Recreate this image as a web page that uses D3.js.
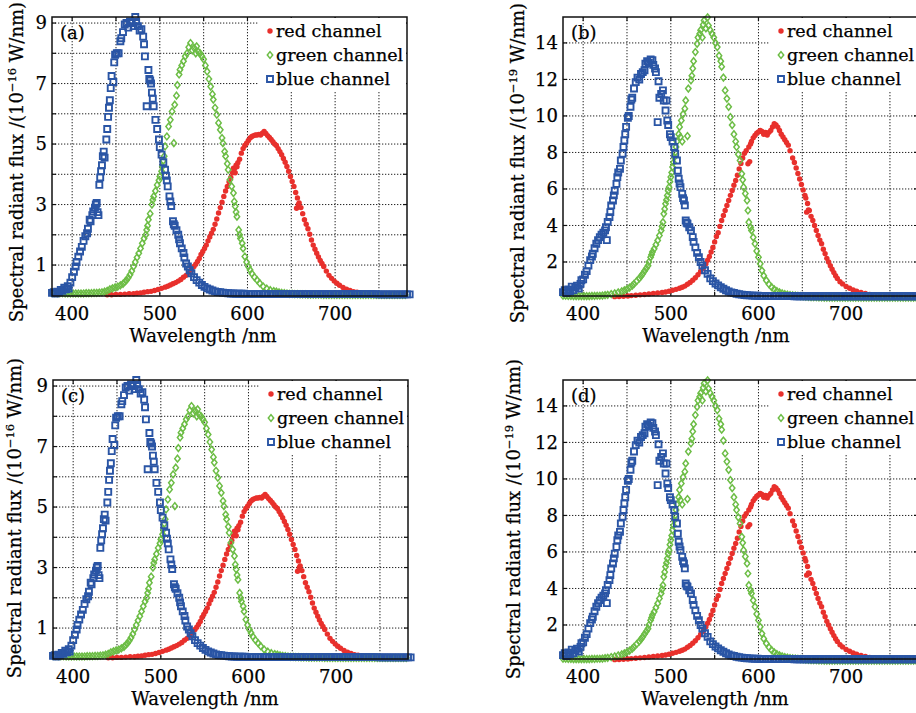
<!DOCTYPE html>
<html>
<head>
<meta charset="utf-8">
<script src="https://cdn.jsdelivr.net/npm/d3@7/dist/d3.min.js"></script>
<style>
body{margin:0;background:#fff}
svg text{font-family:"DejaVu Serif",serif;fill:#000;stroke:#000;stroke-width:0.25px}
</style>
</head>
<body>
<div id="canvas"></div>
<script>
// tick labels / grid positions
const wlTicks = [400, 500, 600, 700]
const wlGrid = [400, 450, 500, 550, 600, 650, 700, 750]
const fluxTicksA = [1, 3, 5, 7, 9]
const fluxGridA = [1, 2, 3, 4, 5, 6, 7, 8, 9]
const fluxTicksB = [2, 4, 6, 8, 10, 12, 14]
const channels = ["red channel", "green channel", "blue channel"]

// panels (a)/(c): [wavelength nm, flux 1e-16 W/nm]
const redA = [[440,0.02],[445,0.02],[450,0.03],[455,0.03],[460,0.04],[465,0.05],[470,0.05],[474,0.07],[478,0.08],[482,0.1],[486,0.12],[490,0.13],[494,0.16],[498,0.19],[502,0.23],[506,0.27],[509,0.3],[512,0.34],[515,0.38],[518,0.42],[521,0.47],[524,0.52],[527,0.6],[530,0.66],[533,0.74],[536,0.84],[539,0.95],[541,1.03],[543,1.12],[545,1.22],[547,1.35],[549,1.45],[551,1.55],[553,1.66],[555,1.8],[557,1.93],[559,2.05],[561,2.18],[563,2.35],[565,2.52],[567,2.72],[569,2.9],[571,3.08],[573,3.27],[575,3.45],[577,3.6],[579,3.75],[581,3.9],[583,4.05],[584,4.2],[585,4.18],[586,4.05],[587,4.3],[588,4.25],[589,4.38],[591,4.5],[593,4.7],[595,4.85],[597,4.95],[599,5.03],[601,5.12],[603,5.2],[605,5.25],[607,5.28],[609,5.3],[611,5.3],[613,5.32],[615,5.3],[617,5.36],[619,5.42],[621,5.35],[623,5.28],[625,5.22],[627,5.15],[629,5.08],[631,5.0],[633,4.95],[635,4.85],[637,4.75],[639,4.65],[641,4.52],[643,4.4],[645,4.26],[647,4.1],[649,3.93],[651,3.76],[653,3.6],[655,3.4],[656,2.88],[657,3.22],[658,3.0],[659,3.05],[661,2.9],[663,2.7],[665,2.5],[667,2.35],[669,2.2],[671,2.02],[673,1.83],[675,1.66],[677,1.52],[679,1.39],[681,1.27],[683,1.15],[685,1.05],[687,0.95],[690,0.8],[693,0.66],[696,0.56],[699,0.47],[702,0.4],[705,0.33],[709,0.26],[713,0.2],[717,0.16],[721,0.12],[725,0.1],[729,0.08],[734,0.06],[739,0.04],[744,0.03],[750,0.02],[756,0.02],[762,0.02],[768,0.02],[774,0.02],[780,0.02]]
const greenA = [[377,0.08],[380,0.08],[383,0.07],[386,0.07],[389,0.07],[392,0.06],[395,0.06],[398,0.06],[401,0.06],[404,0.06],[407,0.06],[410,0.06],[413,0.06],[416,0.07],[419,0.07],[422,0.07],[425,0.08],[428,0.08],[431,0.09],[434,0.1],[437,0.12],[440,0.15],[443,0.2],[446,0.23],[449,0.26],[452,0.29],[455,0.33],[458,0.38],[460,0.44],[462,0.5],[464,0.58],[466,0.68],[468,0.8],[470,0.95],[472,1.1],[474,1.25],[476,1.39],[478,1.55],[480,1.72],[482,1.88],[484,2.0],[485,2.16],[486,2.3],[487,2.5],[489,2.7],[491,3.0],[492,3.15],[493,3.27],[495,3.45],[497,3.65],[499,3.8],[500,3.93],[502,4.1],[503,4.26],[504,4.45],[505,4.6],[506,4.92],[508,5.25],[510,5.58],[512,5.8],[514,6.08],[516,5.03],[517,6.3],[519,6.6],[520,6.95],[522,7.3],[523,7.46],[525,7.6],[527,7.74],[529,7.9],[531,8.0],[533,8.2],[535,8.34],[537,8.1],[539,8.18],[541,8.0],[542,8.23],[544,8.05],[546,8.0],[548,7.9],[550,7.8],[552,7.6],[554,7.4],[556,7.15],[558,6.9],[560,6.65],[561,6.47],[563,6.2],[565,5.97],[567,5.7],[569,5.47],[571,5.2],[572,5.03],[574,4.75],[575,4.6],[577,4.35],[578,4.15],[580,3.82],[582,3.6],[584,3.38],[585,3.1],[586,2.94],[587,2.75],[588,2.6],[590,2.16],[591,2.0],[592,1.88],[594,1.72],[595,1.55],[597,1.28],[599,1.1],[601,0.95],[603,0.84],[605,0.72],[608,0.6],[611,0.5],[614,0.4],[618,0.29],[622,0.22],[626,0.17],[630,0.14],[633,0.12],[636,0.1],[639,0.08],[642,0.07],[645,0.06],[648,0.05],[651,0.05],[654,0.04],[657,0.04],[660,0.03],[663,0.03],[666,0.03],[669,0.02],[672,0.02],[675,0.02],[678,0.02],[681,0.02],[684,0.02],[687,0.01],[690,0.01],[693,0.01],[696,0.01],[699,0.01],[702,0.01],[705,0.01],[708,0.01],[711,0.01],[714,0.01],[717,0.01],[720,0.01],[723,0.01],[726,0.01],[729,0.01],[732,0.01],[735,0.01],[738,0.01],[741,0.01],[744,0.01],[747,0.01],[750,0.01],[753,0.01],[756,0.01],[759,0.01],[762,0.01],[765,0.01],[768,0.01],[771,0.01],[774,0.01],[777,0.01],[780,0.01]]
const blueA = [[377,0.08],[379,0.1],[381,0.06],[383,0.12],[385,0.1],[387,0.18],[389,0.15],[391,0.25],[393,0.2],[395,0.3],[396,0.22],[398,0.42],[400,0.6],[402,0.78],[404,0.95],[405,1.1],[407,1.28],[409,1.45],[411,1.6],[413,1.8],[415,1.95],[417,2.05],[418,2.2],[420,2.5],[421,2.45],[423,2.65],[424,2.77],[426,2.9],[427,3.0],[428,3.05],[429,2.75],[430,2.65],[431,3.65],[432,3.9],[433,4.1],[434,4.3],[435,4.6],[436,4.75],[437,4.55],[439,5.15],[440,5.5],[441,5.9],[442,6.2],[443,6.45],[444,6.85],[445,7.25],[447,7.05],[448,7.7],[449,7.95],[451,8.0],[453,8.0],[455,8.4],[456,8.5],[458,8.7],[460,8.95],[462,9.0],[464,8.85],[466,9.05],[468,9.0],[470,8.9],[472,9.2],[473,9.05],[475,8.9],[477,8.75],[479,8.8],[481,8.55],[482,8.3],[483,7.9],[485,6.25],[487,7.45],[488,7.15],[489,7.1],[490,7.0],[491,6.7],[492,6.5],[493,6.25],[495,5.8],[497,5.5],[499,5.15],[500,4.9],[502,4.65],[504,4.4],[506,4.15],[507,3.95],[508,3.8],[509,3.6],[511,3.27],[512,3.1],[513,2.95],[515,2.45],[516,2.35],[517,2.3],[519,2.15],[521,2.0],[522,1.85],[523,1.72],[525,1.55],[527,1.4],[528,1.25],[530,1.05],[532,0.95],[534,0.83],[536,0.73],[539,0.6],[542,0.5],[545,0.42],[548,0.34],[551,0.28],[554,0.23],[557,0.19],[560,0.16],[563,0.13],[566,0.11],[569,0.1],[572,0.09],[575,0.08],[578,0.07],[581,0.06],[584,0.06],[587,0.05],[590,0.05],[593,0.05],[596,0.05],[599,0.04],[602,0.04],[605,0.04],[608,0.04],[611,0.04],[614,0.04],[617,0.04],[620,0.04],[623,0.04],[626,0.04],[629,0.04],[632,0.04],[635,0.04],[638,0.04],[641,0.04],[644,0.04],[647,0.04],[650,0.04],[653,0.04],[656,0.04],[659,0.04],[662,0.04],[665,0.04],[668,0.04],[671,0.04],[674,0.04],[677,0.04],[680,0.04],[683,0.04],[686,0.04],[689,0.04],[692,0.04],[695,0.04],[698,0.04],[701,0.04],[704,0.04],[707,0.04],[710,0.04],[713,0.04],[716,0.04],[719,0.04],[722,0.04],[725,0.04],[728,0.04],[731,0.04],[734,0.04],[737,0.04],[740,0.04],[743,0.04],[746,0.04],[749,0.03],[752,0.03],[755,0.03],[758,0.03],[761,0.03],[764,0.03],[767,0.03],[770,0.03],[773,0.03],[776,0.03],[779,0.03],[782,0.03],[785,0.03]]

// panels (b)/(d): [wavelength nm, flux 1e-19 W/nm]
const redB = [[436,0.1],[441,0.11],[446,0.12],[451,0.14],[455,0.16],[460,0.18],[465,0.2],[470,0.22],[475,0.25],[480,0.28],[485,0.3],[490,0.33],[494,0.36],[498,0.4],[502,0.45],[506,0.5],[510,0.56],[513,0.62],[516,0.68],[519,0.78],[522,0.88],[525,1.0],[528,1.14],[531,1.3],[534,1.48],[537,1.66],[540,1.9],[542,2.1],[544,2.3],[546,2.55],[548,2.8],[550,3.1],[552,3.4],[554,3.6],[556,3.95],[558,4.27],[560,4.55],[562,4.82],[564,5.1],[566,5.37],[568,5.65],[570,5.92],[572,6.2],[574,6.47],[576,6.75],[578,7.1],[580,7.4],[582,7.7],[584,7.95],[586,8.1],[588,7.38],[589,8.3],[590,7.5],[591,8.47],[592,8.6],[594,8.8],[596,8.93],[598,9.05],[600,9.12],[602,9.2],[604,9.15],[606,9.0],[608,9.1],[610,8.95],[612,9.1],[614,9.2],[616,9.4],[618,9.57],[620,9.5],[622,9.39],[624,9.2],[626,9.0],[628,8.85],[630,8.7],[632,8.55],[634,8.4],[636,8.1],[639,7.7],[641,7.45],[643,7.15],[645,6.85],[647,6.55],[649,6.25],[651,5.95],[653,5.65],[654,5.5],[655,4.73],[656,5.2],[657,4.85],[658,4.82],[660,4.5],[662,4.27],[664,4.0],[666,3.73],[668,3.45],[670,3.2],[672,3.0],[674,2.7],[676,2.45],[678,2.2],[680,2.0],[682,1.8],[684,1.6],[686,1.42],[688,1.25],[690,1.1],[693,0.92],[696,0.8],[700,0.66],[704,0.56],[708,0.47],[712,0.4],[717,0.33],[722,0.27],[727,0.22],[732,0.19],[738,0.16],[744,0.14],[750,0.13],[756,0.12],[762,0.12],[768,0.12],[774,0.12],[780,0.12]]
const greenB = [[377,0.15],[380,0.15],[383,0.14],[386,0.14],[389,0.13],[392,0.13],[395,0.13],[398,0.13],[401,0.13],[404,0.13],[407,0.13],[410,0.14],[413,0.14],[416,0.15],[419,0.15],[422,0.16],[425,0.18],[428,0.2],[432,0.24],[436,0.28],[440,0.33],[444,0.39],[447,0.44],[450,0.52],[453,0.6],[456,0.7],[458,0.8],[461,0.95],[464,1.1],[466,1.22],[468,1.35],[470,1.5],[472,1.65],[474,1.8],[475,2.0],[477,2.26],[478,2.4],[479,2.55],[481,2.72],[483,2.95],[485,3.18],[487,3.45],[489,3.73],[490,3.95],[491,4.18],[492,4.64],[493,4.9],[494,5.19],[495,5.4],[496,5.64],[497,5.9],[498,6.1],[499,6.4],[500,6.65],[501,6.9],[502,7.2],[503,7.45],[504,7.74],[505,8.0],[506,8.3],[507,8.6],[509,9.0],[510,9.4],[511,8.84],[512,9.75],[513,8.6],[514,10.1],[516,10.4],[517,10.85],[519,8.9],[520,11.5],[523,11.95],[524,12.2],[525,12.6],[526,13.0],[528,13.5],[530,13.95],[531,14.3],[533,14.5],[534,14.7],[536,14.3],[537,15.0],[538,15.23],[540,14.8],[542,15.4],[543,14.95],[545,14.7],[547,14.5],[549,14.3],[551,14.0],[553,13.77],[555,13.3],[557,13.0],[558,12.7],[560,12.1],[562,11.4],[564,10.95],[566,10.5],[568,9.94],[570,9.5],[572,9.0],[574,8.6],[575,8.3],[577,7.9],[579,7.56],[581,6.83],[582,6.5],[583,6.1],[585,5.75],[587,5.37],[588,4.82],[589,4.18],[591,3.9],[592,3.73],[594,3.35],[596,3.0],[598,2.6],[600,2.26],[602,1.9],[604,1.53],[606,1.25],[609,0.99],[612,0.78],[615,0.62],[618,0.5],[621,0.4],[624,0.33],[627,0.28],[630,0.24],[633,0.21],[636,0.19],[639,0.17],[642,0.16],[645,0.15],[648,0.13],[651,0.12],[654,0.1],[657,0.09],[660,0.08],[663,0.07],[666,0.07],[669,0.06],[672,0.06],[675,0.05],[678,0.05],[681,0.05],[684,0.05],[687,0.05],[690,0.05],[693,0.05],[696,0.05],[699,0.05],[702,0.05],[705,0.05],[708,0.05],[711,0.05],[714,0.05],[717,0.05],[720,0.05],[723,0.05],[726,0.05],[729,0.05],[732,0.05],[735,0.05],[738,0.05],[741,0.05],[744,0.05],[747,0.05],[750,0.05],[753,0.05],[756,0.05],[759,0.05],[762,0.05],[765,0.05],[768,0.05],[771,0.05],[774,0.05],[777,0.05],[780,0.05]]
const blueB = [[377,0.35],[379,0.45],[381,0.3],[383,0.5],[385,0.4],[387,0.65],[389,0.45],[391,0.6],[393,0.7],[395,0.55],[397,0.8],[398,1.0],[400,1.05],[402,1.3],[404,1.5],[406,1.8],[408,2.1],[410,2.3],[411,2.45],[413,2.75],[415,3.0],[417,3.2],[419,3.36],[421,3.5],[423,3.6],[425,3.73],[426,3.9],[427,3.2],[428,4.2],[430,4.46],[431,4.73],[432,5.1],[434,5.37],[435,5.65],[436,5.9],[438,6.28],[439,6.65],[440,6.9],[442,7.1],[443,7.56],[445,7.93],[446,8.3],[447,8.66],[448,9.0],[449,9.4],[451,9.9],[452,10.0],[454,10.5],[455,10.9],[456,11.0],[458,11.5],[460,11.85],[462,12.1],[464,12.0],[466,12.3],[468,12.4],[470,12.5],[471,12.86],[473,13.0],[475,12.9],[477,13.1],[479,13.05],[480,12.8],[482,12.6],[483,12.4],[485,9.66],[486,11.9],[487,11.0],[489,11.2],[491,11.4],[492,10.85],[494,10.3],[495,10.85],[496,9.75],[497,9.5],[499,9.0],[500,8.84],[502,8.6],[504,8.3],[505,7.93],[507,7.56],[508,7.0],[509,6.56],[510,6.3],[511,6.1],[513,5.73],[514,5.5],[515,5.37],[516,5.1],[517,4.27],[518,4.15],[519,4.1],[521,3.9],[523,3.73],[525,3.36],[526,3.1],[528,2.8],[530,2.5],[532,2.26],[534,2.0],[536,1.8],[539,1.55],[542,1.35],[545,1.1],[548,0.95],[551,0.82],[554,0.72],[557,0.62],[560,0.53],[563,0.45],[566,0.38],[569,0.33],[572,0.3],[575,0.26],[578,0.23],[581,0.21],[584,0.19],[587,0.18],[590,0.17],[593,0.16],[596,0.15],[599,0.15],[602,0.14],[605,0.14],[608,0.14],[611,0.13],[614,0.13],[617,0.13],[620,0.13],[623,0.13],[626,0.13],[629,0.13],[632,0.13],[635,0.13],[638,0.13],[641,0.12],[644,0.12],[647,0.12],[650,0.12],[653,0.12],[656,0.12],[659,0.12],[662,0.12],[665,0.12],[668,0.12],[671,0.12],[674,0.12],[677,0.12],[680,0.12],[683,0.12],[686,0.12],[689,0.12],[692,0.12],[695,0.12],[698,0.12],[701,0.12],[704,0.12],[707,0.12],[710,0.12],[713,0.12],[716,0.12],[719,0.12],[722,0.12],[725,0.12],[728,0.12],[731,0.12],[734,0.12],[737,0.12],[740,0.12],[743,0.12],[746,0.12],[749,0.12],[752,0.12],[755,0.12],[758,0.12],[761,0.12],[764,0.12],[767,0.12],[770,0.12],[773,0.12],[776,0.12],[779,0.12],[782,0.12],[785,0.12]]

const colors = {red: "#e8302c", green: "#6cbd45", blue: "#2a55a5"}

const panels = [
  {tag:"(a)", left:52, top:17, yMax:9.2, y0:295.3, ticks:fluxTicksA, grid:fluxGridA, exp:"\u221216",
   red:redA, green:greenA, blue:blueA, ytx:23, yty:162, xtx:203, xty:342},
  {tag:"(b)", left:563, top:17, yMax:15.42, y0:298.5, ticks:fluxTicksB, grid:fluxTicksB, exp:"\u221219",
   red:redB, green:greenB, blue:blueB, ytx:524, yty:163, xtx:716, xty:342},
  {tag:"(c)", left:53, top:380, yMax:9.2, y0:658.3, ticks:fluxTicksA, grid:fluxGridA, exp:"\u221216",
   red:redA, green:greenA, blue:blueA, ytx:21, yty:518, xtx:205, xty:705},
  {tag:"(d)", left:563, top:380, yMax:15.42, y0:661.5, ticks:fluxTicksB, grid:fluxTicksB, exp:"\u221219",
   red:redB, green:greenB, blue:blueB, ytx:520, yty:519, xtx:715, xty:705}
]

const width = 916, height = 713
const pw = 355, ph = 279

const svg = d3.select("#canvas").append("svg")
  .attr("width", width).attr("height", height)

const diamond = "M0,-3.4L2.7,0L0,3.4L-2.7,0Z"
const square = "M-3,-3H3V3H-3Z"

panels.forEach(p => drawPanel(p))

function drawPanel(p) {
  const x = d3.scaleLinear().domain([377, 782]).range([p.left, p.left + pw])
  const y = d3.scaleLinear().domain([0, p.yMax]).range([p.y0, p.top])
  const bottom = p.top + ph
  const g = svg.append("g")

  // dotted grid
  g.append("g").selectAll("line").data(wlGrid).join("line")
    .attr("x1", d => x(d)).attr("x2", d => x(d))
    .attr("y1", p.top).attr("y2", bottom)
    .attr("stroke", "#222").attr("stroke-width", 1).attr("stroke-dasharray", "1.3,1.7")
  g.append("g").selectAll("line").data(p.grid).join("line")
    .attr("x1", p.left).attr("x2", p.left + pw)
    .attr("y1", d => y(d)).attr("y2", d => y(d))
    .attr("stroke", "#222").attr("stroke-width", 1).attr("stroke-dasharray", "1.3,1.7")

  // inward ticks on all sides
  const tk = g.append("g").attr("stroke", "#111").attr("stroke-width", 1.2)
  wlGrid.forEach(d => {
    tk.append("line").attr("x1", x(d)).attr("x2", x(d)).attr("y1", bottom).attr("y2", bottom - 4)
    tk.append("line").attr("x1", x(d)).attr("x2", x(d)).attr("y1", p.top).attr("y2", p.top + 4)
  })
  p.grid.forEach(d => {
    tk.append("line").attr("x1", p.left).attr("x2", p.left + 4).attr("y1", y(d)).attr("y2", y(d))
    tk.append("line").attr("x1", p.left + pw).attr("x2", p.left + pw - 4).attr("y1", y(d)).attr("y2", y(d))
  })

  // legend box (covers grid)
  const lg = g.append("g")
  lg.append("rect").attr("x", p.left + 206).attr("y", p.top + 1)
    .attr("width", pw - 207).attr("height", 74).attr("fill", "#fff")

  // series: red dots, green diamonds, blue squares
  g.append("g").selectAll("circle").data(p.red).join("circle")
    .attr("cx", d => x(d[0])).attr("cy", d => y(d[1])).attr("r", 2.7)
    .attr("fill", colors.red)
  g.append("g").selectAll("path").data(p.green).join("path")
    .attr("transform", d => `translate(${x(d[0])},${y(d[1])})`)
    .attr("d", diamond).attr("fill", "none")
    .attr("stroke", colors.green).attr("stroke-width", 1.5)
  g.append("g").selectAll("path").data(p.blue).join("path")
    .attr("transform", d => `translate(${x(d[0])},${y(d[1])})`)
    .attr("d", square).attr("fill", "none")
    .attr("stroke", colors.blue).attr("stroke-width", 1.9)

  // frame
  g.append("rect").attr("x", p.left).attr("y", p.top)
    .attr("width", pw).attr("height", ph)
    .attr("fill", "none").attr("stroke", "#111").attr("stroke-width", 1.5)

  // legend entries
  const lx = p.left + 218
  channels.forEach((name, i) => {
    const ly = p.top + 14 + i * 24
    if (i === 0) lg.append("circle").attr("cx", lx).attr("cy", ly).attr("r", 2.7).attr("fill", colors.red)
    if (i === 1) lg.append("path").attr("transform", `translate(${lx},${ly})`).attr("d", diamond)
      .attr("fill", "none").attr("stroke", colors.green).attr("stroke-width", 1.5)
    if (i === 2) lg.append("path").attr("transform", `translate(${lx},${ly})`).attr("d", square)
      .attr("fill", "none").attr("stroke", colors.blue).attr("stroke-width", 1.9)
    lg.append("text").attr("x", lx + 6).attr("y", ly + 6)
      .attr("font-size", 17.5).text(name)
  })

  // panel tag
  g.append("text").attr("x", p.left + 8).attr("y", p.top + 22)
    .attr("font-size", 18).text(p.tag)

  // tick labels
  g.append("g").selectAll("text").data(wlTicks).join("text")
    .attr("x", d => x(d)).attr("y", bottom + 24)
    .attr("text-anchor", "middle").attr("font-size", 18).text(d => d)
  g.append("g").selectAll("text").data(p.ticks).join("text")
    .attr("x", p.left - 5).attr("y", d => y(d)).attr("dy", "0.35em")
    .attr("text-anchor", "end").attr("font-size", 18).text(d => d)

  // axis titles
  g.append("text").attr("x", p.xtx).attr("y", p.xty)
    .attr("text-anchor", "middle").attr("font-size", 18).text("Wavelength /nm")
  const yt = g.append("text")
    .attr("transform", `translate(${p.ytx},${p.yty}) rotate(-90)`)
    .attr("text-anchor", "middle").attr("font-size", 18)
  yt.append("tspan").text("Spectral radiant flux /(10")
  yt.append("tspan").attr("dy", -7).attr("font-size", 11.5).text(p.exp)
  yt.append("tspan").attr("dy", 7).text(" W/nm)")
}
</script>
</body>
</html>
